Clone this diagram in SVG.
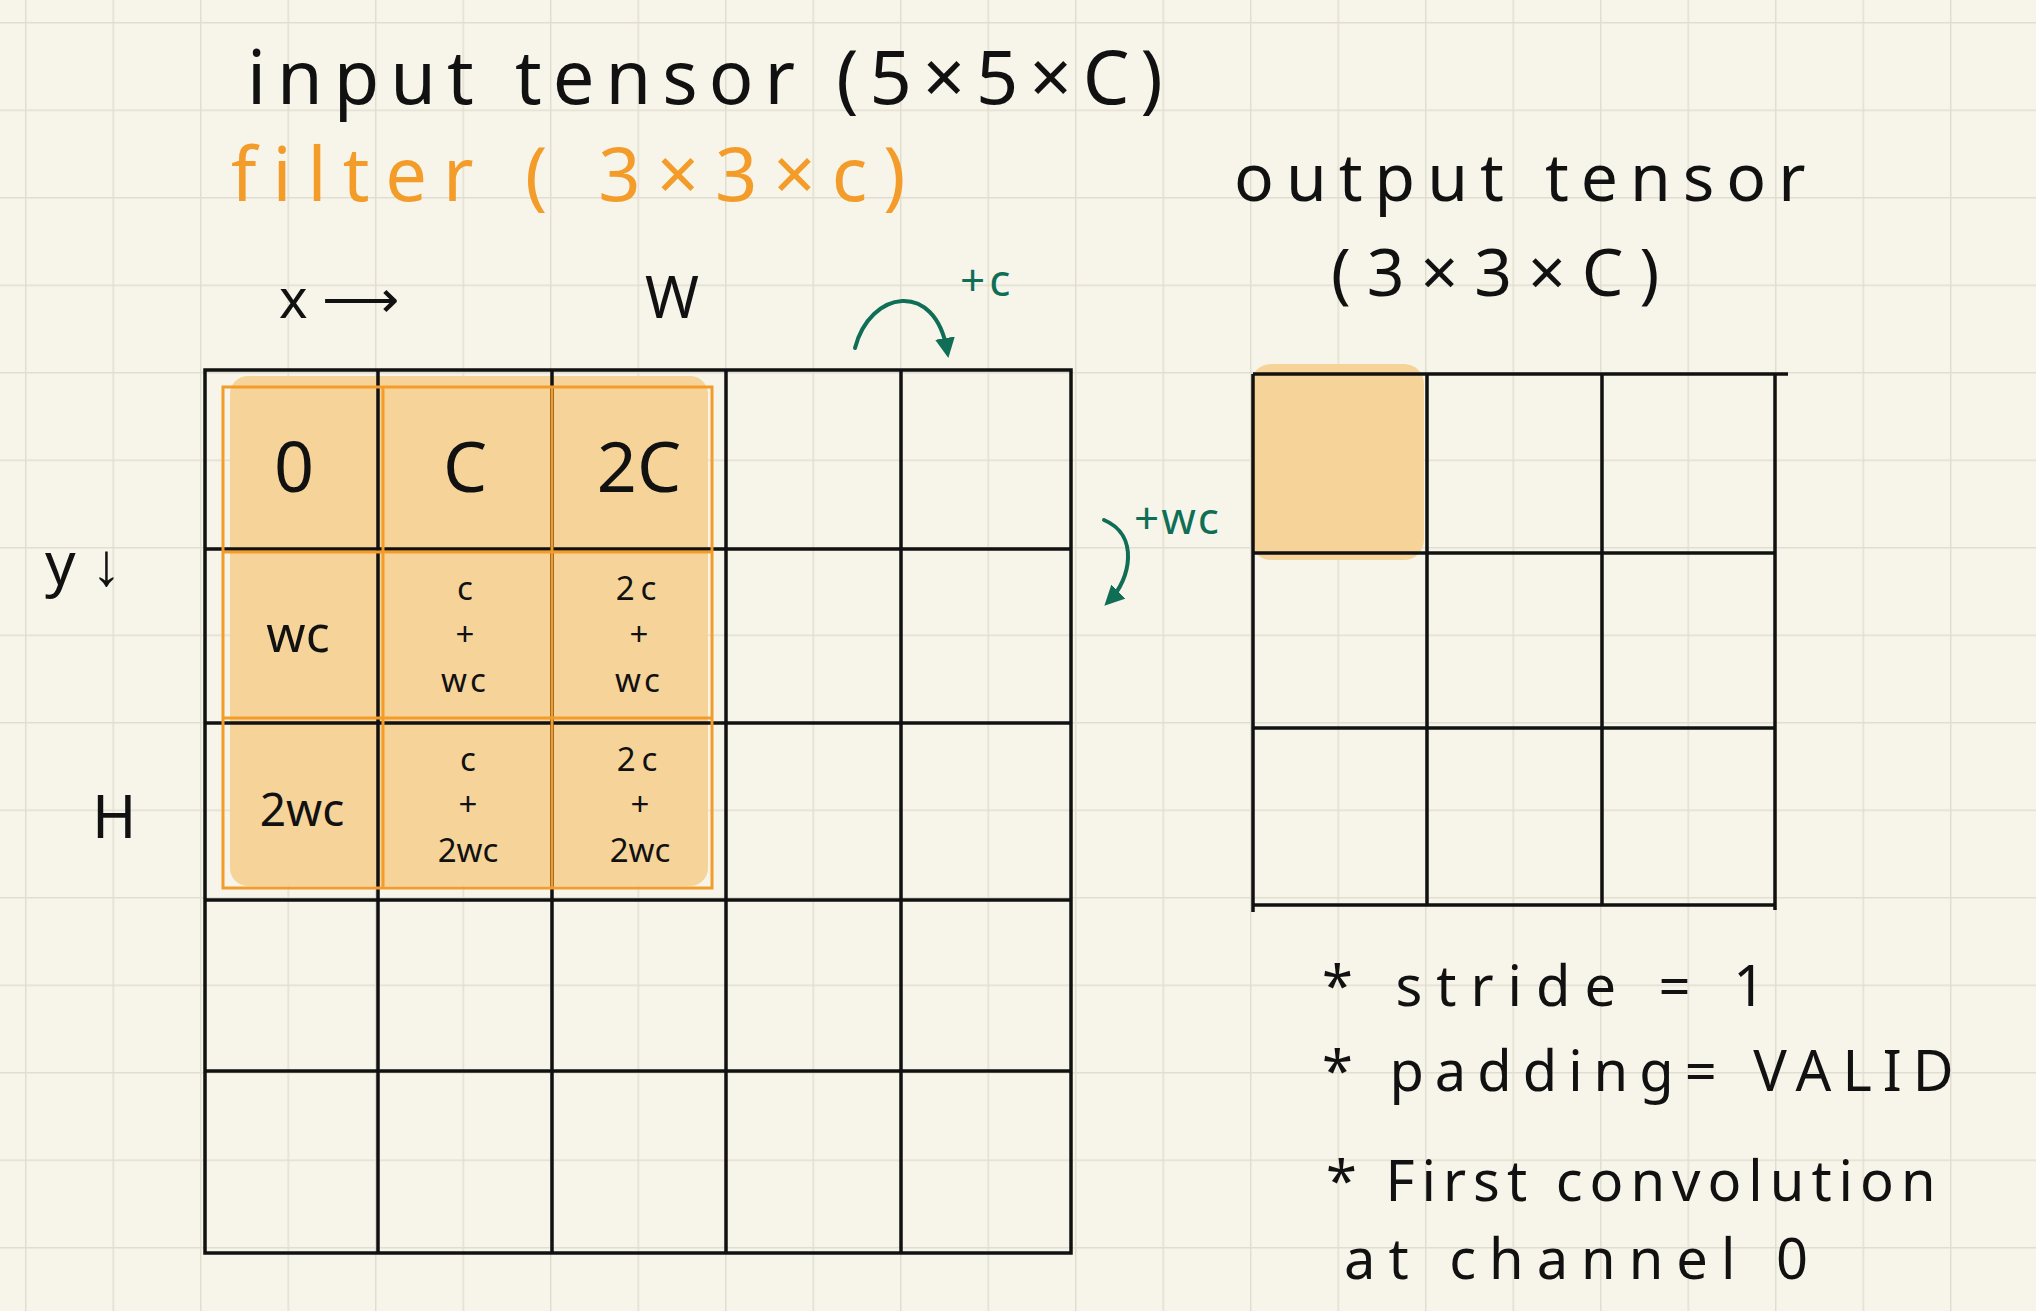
<svg xmlns="http://www.w3.org/2000/svg" width="2036" height="1311" viewBox="0 0 2036 1311">
<defs>
<pattern id="grid" x="25" y="22" width="87.5" height="87.5" patternUnits="userSpaceOnUse">
<path d="M0 0V87.5M0 0H87.5" stroke="#e1ded1" stroke-width="3" fill="none"/>
</pattern>
<marker id="ah" viewBox="0 0 10 10" refX="6" refY="5" markerWidth="5" markerHeight="5" orient="auto"><path d="M0 0L10 5L0 10z" fill="#0f6e55"/></marker>
</defs>
<style>
.t{font-family:"Noto Sans","Liberation Sans",sans-serif;fill:#111}
.o{fill:#f39c2a}
.g{fill:#0f6e55}
.grid line{stroke:#111;stroke-width:3.5}
.c{text-anchor:middle}
.s{font-size:33px}
</style>
<rect width="2036" height="1311" fill="#f7f5e9"/>
<rect width="2036" height="1311" fill="url(#grid)"/>
<g id="titles">
<text class="t" x="247" y="104" font-size="74" letter-spacing="11">input tensor (5×5×C)</text>
<text class="t o" x="231" y="201" font-size="74" letter-spacing="16">filter ( 3×3×c)</text>
<text class="t" x="1234" y="201" font-size="66" letter-spacing="12">output tensor</text>
<text class="t" x="1331" y="296" font-size="66" letter-spacing="16">(3×3×C)</text>
</g>
<g id="axes">
<text class="t" x="279" y="318" font-size="54">x ⟶</text>
<text class="t" x="645" y="318" font-size="58">W</text>
<text class="t" x="45" y="585" font-size="60">y ↓</text>
<text class="t" x="92" y="838" font-size="60">H</text>
</g>
<g id="input-tensor">
<rect x="230" y="376" width="478" height="510" fill="#f6d499" rx="18"/>
<g class="grid">
<rect x="205" y="370" width="866" height="883" fill="none" stroke="#111" stroke-width="3.5"/>
<line x1="378" y1="370" x2="378" y2="1253"/><line x1="552" y1="370" x2="552" y2="1253"/><line x1="726" y1="370" x2="726" y2="1253"/><line x1="901" y1="370" x2="901" y2="1253"/>
<line x1="205" y1="549" x2="1071" y2="549"/><line x1="205" y1="723" x2="1071" y2="723"/><line x1="205" y1="900" x2="1071" y2="900"/><line x1="205" y1="1071" x2="1071" y2="1071"/>
</g>
</g>
<g id="filter" fill="none" stroke="#f39c2a" stroke-width="3">
<rect x="223" y="387" width="489" height="501"/>
<line x1="383" y1="387" x2="383" y2="888"/><line x1="552" y1="387" x2="552" y2="888"/>
<line x1="223" y1="552" x2="712" y2="552"/><line x1="223" y1="718" x2="712" y2="718"/>
</g>
<g id="cell-labels">
<text x="294" y="492" font-size="70" class="t c">0</text>
<text x="465" y="492" font-size="70" class="t c">C</text>
<text x="639" y="492" font-size="70" class="t c">2C</text>
<text x="298" y="652" font-size="50" class="t c">wc</text>
<text x="465" y="600" class="t c s">c</text><text x="465" y="646" class="t c s">+</text><text x="465" y="692" class="t c s" letter-spacing="3">wc</text>
<text x="639" y="600" class="t c s" letter-spacing="6">2c</text><text x="639" y="646" class="t c s">+</text><text x="639" y="692" class="t c s" letter-spacing="3">wc</text>
<text x="302" y="826" font-size="46" class="t c">2wc</text>
<text x="468" y="771" class="t c s">c</text><text x="468" y="816" class="t c s">+</text><text x="468" y="862" class="t c s">2wc</text>
<text x="640" y="771" class="t c s" letter-spacing="6">2c</text><text x="640" y="816" class="t c s">+</text><text x="640" y="862" class="t c s">2wc</text>
</g>
<g id="connectors" fill="none" stroke="#0f6e55" stroke-width="4" stroke-linecap="round">
<path d="M855 348C870 290 935 280 947 350" marker-end="url(#ah)"/>
<path d="M1104 520C1140 535 1130 580 1110 600" marker-end="url(#ah)"/>
</g>
<g id="green-labels">
<text class="t g" x="960" y="296" font-size="44" letter-spacing="4">+c</text>
<text class="t g" x="1134" y="534" font-size="44" letter-spacing="2">+wc</text>
</g>
<g id="output-tensor">
<rect x="1251" y="364" width="173" height="196" fill="#f6d499" rx="20"/>
<g class="grid">
<line x1="1253" y1="374" x2="1788" y2="374"/><line x1="1253" y1="553" x2="1775" y2="553"/><line x1="1253" y1="728" x2="1775" y2="728"/><line x1="1253" y1="905" x2="1775" y2="905"/>
<line x1="1253" y1="374" x2="1253" y2="912"/><line x1="1427" y1="374" x2="1427" y2="905"/><line x1="1602" y1="374" x2="1602" y2="905"/><line x1="1775" y1="374" x2="1775" y2="910"/>
</g>
</g>
<g id="notes">
<text class="t" x="1322" y="1006" font-size="56" letter-spacing="14">* stride = 1</text>
<text class="t" x="1322" y="1091" font-size="56" letter-spacing="11">* padding= VALID</text>
<text class="t" x="1326" y="1201" font-size="56" letter-spacing="7">* First convolution</text>
<text class="t" x="1344" y="1279" font-size="56" letter-spacing="13">at channel 0</text>
</g>
</svg>
